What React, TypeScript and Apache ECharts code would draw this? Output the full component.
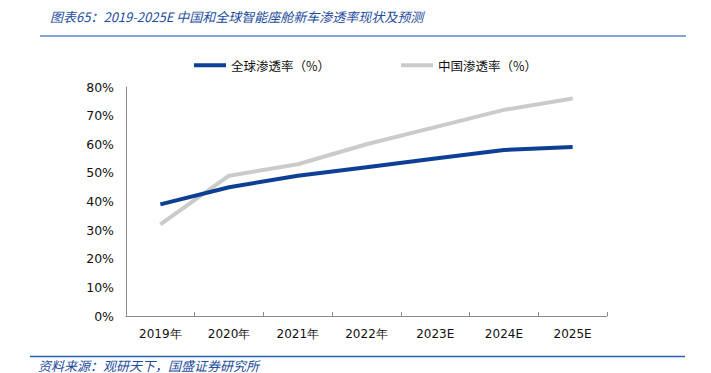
import React, { useEffect, useRef } from "react";
import * as echarts from "echarts";

const categories = ["2019年", "2020年", "2021年", "2022年", "2023E", "2024E", "2025E"];
const globalRate = [39, 45, 49, 52, 55, 58, 59];
const chinaRate = [32, 49, 53, 60, 66, 72, 76];
const seriesNames = ["全球渗透率（%）", "中国渗透率（%）"];
const titleText = "图表65：2019-2025E 中国和全球智能座舱新车渗透率现状及预测";
const sourceText = "资料来源：观研天下，国盛证券研究所";

const numFont = "DejaVu Sans, Verdana, sans-serif";
const cjkFont = "Noto Sans CJK SC, sans-serif";

export default function App() {
  const ref = useRef<HTMLDivElement>(null);
  useEffect(() => {
    if (!ref.current) return;
    const chart = echarts.init(ref.current, undefined, { renderer: "svg" });
    chart.setOption({
      animation: false,
      backgroundColor: "#fff",
      grid: { left: 126, right: 104, top: 87, bottom: 57 },
      legend: [
        {
          left: 189,
          top: 54,
          data: [seriesNames[0]],
          icon: "rect",
          itemWidth: 32,
          itemHeight: 4,
          itemGap: 0,
          textStyle: { fontFamily: cjkFont, fontSize: 12.5, color: "#111" },
        },
        {
          left: 396,
          top: 54,
          data: [seriesNames[1]],
          icon: "rect",
          itemWidth: 32,
          itemHeight: 4,
          itemGap: 0,
          textStyle: { fontFamily: cjkFont, fontSize: 12.5, color: "#111" },
        },
      ],
      xAxis: {
        type: "category",
        data: categories,
        boundaryGap: true,
        axisLine: { lineStyle: { color: "#8c8c8c", width: 1 } },
        axisTick: { show: true, inside: true, length: 4, lineStyle: { color: "#8c8c8c" } },
        axisLabel: { color: "#111", fontFamily: numFont, fontSize: 12, margin: 12 },
      },
      yAxis: {
        type: "value",
        min: 0,
        max: 80,
        interval: 10,
        axisLine: { show: true, lineStyle: { color: "#8c8c8c", width: 1 } },
        axisTick: { show: false },
        splitLine: { show: false },
        axisLabel: { color: "#111", fontFamily: numFont, fontSize: 12.5, margin: 12, formatter: "{value}%" },
      },
      series: [
        {
          name: seriesNames[0],
          type: "line",
          data: globalRate,
          symbol: "none",
          z: 3,
          lineStyle: { color: "#0d3f94", width: 4 },
          itemStyle: { color: "#0d3f94" },
        },
        {
          name: seriesNames[1],
          type: "line",
          data: chinaRate,
          symbol: "none",
          z: 2,
          lineStyle: { color: "#cbcbcb", width: 4 },
          itemStyle: { color: "#cbcbcb" },
        },
      ],
      graphic: [
        {
          type: "text",
          left: 50,
          top: 10,
          style: {
            text: titleText,
            fill: "#1d4c9c",
            font: "italic 13px " + cjkFont,
          },
        },
        {
          type: "line",
          shape: { x1: 40, y1: 36, x2: 686, y2: 36 },
          style: { stroke: "#5b89c8", lineWidth: 1.5 },
        },
        {
          type: "line",
          shape: { x1: 30, y1: 356.5, x2: 685, y2: 356.5 },
          style: { stroke: "#2a5fad", lineWidth: 1.5 },
        },
        {
          type: "text",
          x: 38,
          y: 365,
          style: {
            text: sourceText,
            fill: "#1d4c9c",
            font: "italic 13px " + cjkFont,
            verticalAlign: "middle",
          },
        },
      ],
    });
    return () => chart.dispose();
  }, []);
  return <div ref={ref} style={{ width: 711, height: 373, position: "absolute", left: 0, top: 0 }} />;
}
